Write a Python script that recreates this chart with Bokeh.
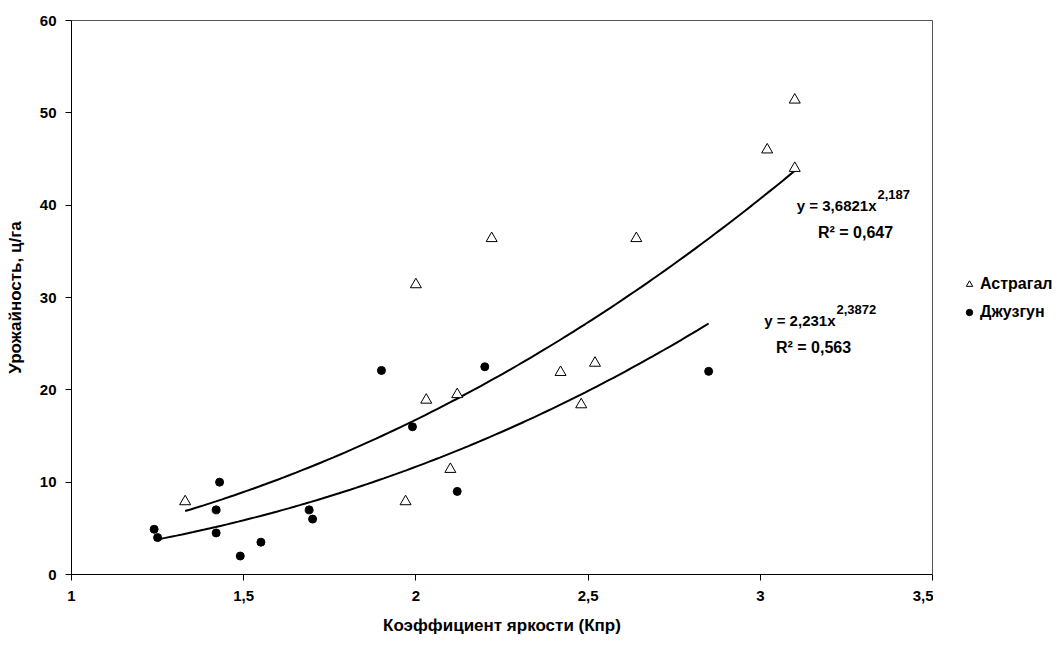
import numpy as np
from bokeh.plotting import figure
from bokeh.layouts import row
from bokeh.models import (ColumnDataSource, FixedTicker, Label, Legend, LegendItem)
from bokeh.embed import file_html
from bokeh.resources import INLINE

# ---- data ----
astr_x = [1.33, 1.97, 2.00, 2.03, 2.10, 2.12, 2.22, 2.42, 2.48, 2.52, 2.64, 3.02, 3.10, 3.10]
astr_y = [7.9, 7.9, 31.4, 18.9, 11.4, 19.5, 36.4, 21.9, 18.4, 22.9, 36.4, 46.0, 51.4, 44.0]
dzh_x = [1.24, 1.25, 1.42, 1.42, 1.43, 1.49, 1.55, 1.69, 1.70, 1.90, 1.99, 2.12, 2.20, 2.85]
dzh_y = [4.9, 4.0, 4.5, 7.0, 10.0, 2.0, 3.5, 7.0, 6.0, 22.1, 16.0, 9.0, 22.5, 22.0]

# power trend lines shown on the chart: y = a * x^b
astr_a, astr_b, astr_r2 = 3.6821, 2.187, "0,647"
dzh_a, dzh_b, dzh_r2 = 2.231, 2.3872, "0,563"

series_names = ["Астрагал", "Джузгун"]
x_ticks = [1, 1.5, 2, 2.5, 3, 3.5]
x_tick_labels = ["1", "1,5", "2", "2,5", "3", "3,5"]
y_ticks = [0, 10, 20, 30, 40, 50, 60]
x_title = "Коэффициент яркости (Кпр)"
y_title = "Урожайность, ц/га"

FONT = "Liberation Sans"

# ---- layout ----
FL, FT, FW, FH = 71, 20, 861, 554
W, H = 1062, 650
MAIN_W = FL + FW + 1
X0, X1, Y0, Y1 = 1, 3.5, 0, 60

def px2x(px):
    return X0 + (px - FL) * (X1 - X0) / FW

def px2y(py):
    return Y0 + (FT + FH - py) * (Y1 - Y0) / FH

p = figure(frame_width=FW, frame_height=FH,
           x_range=(X0, X1), y_range=(Y0, Y1),
           output_backend="svg", toolbar_location=None,
           min_border_left=FL, min_border_top=FT,
           min_border_right=1, min_border_bottom=H - FT - FH)
p.background_fill_color = "white"
p.border_fill_color = "white"
p.outline_line_color = "#555555"
p.outline_line_width = 1
p.xgrid.visible = False
p.ygrid.visible = False

# axes
p.xaxis.ticker = FixedTicker(ticks=x_ticks)
p.xaxis.major_label_overrides = {t: l for t, l in zip(x_ticks, x_tick_labels)}
p.yaxis.ticker = FixedTicker(ticks=y_ticks)
for ax in (p.xaxis[0], p.yaxis[0]):
    ax.axis_line_color = "black"
    ax.axis_line_width = 1
    ax.major_tick_line_color = "black"
    ax.major_tick_in = 0
    ax.major_tick_out = 6
    ax.minor_tick_line_color = None
    ax.major_label_text_font = FONT
    ax.major_label_text_font_style = "bold"
    ax.major_label_text_font_size = "15px"
    ax.major_label_text_color = "black"
    ax.axis_label_text_font = FONT
    ax.axis_label_text_font_style = "bold"
    ax.axis_label_text_font_size = "17px"
    ax.axis_label_text_color = "black"
p.xaxis.axis_label = x_title
p.yaxis.axis_label = y_title
p.xaxis.major_label_standoff = 10
p.yaxis.major_label_standoff = 9
p.xaxis.axis_label_standoff = 12
p.yaxis.axis_label_standoff = 12

# trend lines
tx1 = np.linspace(min(astr_x), max(astr_x), 100)
tx2 = np.linspace(min(dzh_x), max(dzh_x), 100)
p.line(tx1, astr_a * tx1 ** astr_b, line_color="black", line_width=2)
p.line(tx2, dzh_a * tx2 ** dzh_b, line_color="black", line_width=2)

# points
tri_style = dict(marker="triangle", fill_color="white", line_color="black", line_width=1)
dot_style = dict(marker="circle", fill_color="black", line_color="black")
src_a = ColumnDataSource(dict(x=astr_x, y=astr_y))
src_d = ColumnDataSource(dict(x=dzh_x, y=dzh_y))
p.scatter("x", "y", source=src_a, size=11, **tri_style)
p.scatter("x", "y", source=src_d, size=8, **dot_style)

# equation labels
def lab(px, py, text, size, align):
    p.add_layout(Label(x=px2x(px), y=px2y(py), text=text, text_font=FONT,
                       text_font_style="bold", text_font_size=size,
                       text_align=align, text_baseline="alphabetic",
                       text_color="black"))

lab(876, 205, "y = " + "3,6821" + "x", "15px", "right")
lab(877, 194, str(astr_b).replace(".", ","), "13px", "left")
lab(855, 232, "R\u00b2 = " + astr_r2, "16px", "center")

lab(835, 320, "y = " + "2,231" + "x", "15px", "right")
lab(836, 309, str(dzh_b).replace(".", ","), "13px", "left")
lab(813, 347, "R\u00b2 = " + dzh_r2, "16px", "center")

# ---- legend panel on the right (outside the plot frame) ----
# the legend figure shares the data sources; its ranges keep the points out of view,
# so only the legend entries are visible there
LW = W - MAIN_W
lf = figure(width=LW, height=H, x_range=(0, 1), y_range=(0, 1),
            output_backend="svg", toolbar_location=None,
            min_border=0, outline_line_color=None)
lf.axis.visible = False
lf.xgrid.visible = False
lf.ygrid.visible = False
lf.background_fill_color = "white"
lf.border_fill_color = "white"
r_a = lf.scatter("x", "y", source=src_a, size=11, **tri_style)
r_d = lf.scatter("x", "y", source=src_d, size=8, **dot_style)
legend = Legend(items=[LegendItem(label=series_names[0], renderers=[r_a]),
                       LegendItem(label=series_names[1], renderers=[r_d])],
                location=(969 - 8 - MAIN_W, H - 323 - 75), orientation="vertical",
                padding=0, margin=0, spacing=8, glyph_width=16, glyph_height=20,
                label_height=20, label_standoff=3,
                label_text_font=FONT, label_text_font_style="bold",
                label_text_font_size="16px", label_text_color="black",
                border_line_color=None, background_fill_alpha=0)
lf.add_layout(legend)

layout = row(p, lf, spacing=0)
open("out.html", "w").write(file_html(layout, INLINE))
